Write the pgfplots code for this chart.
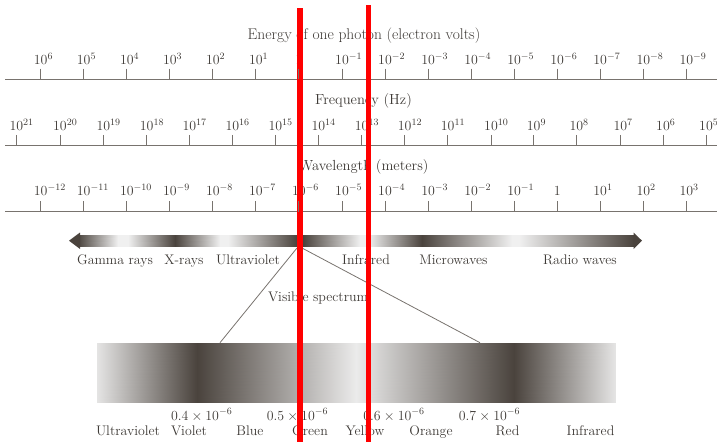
\RequirePackage{fix-cm}
\documentclass[border=0pt]{standalone}
\usepackage{fontspec}
\usepackage{pgfplots}
\pgfplotsset{compat=1.18}
\definecolor{txt}{RGB}{62,58,54}
\definecolor{axc}{RGB}{120,115,110}
\definecolor{dk}{RGB}{74,67,61}
\tikzset{lab/.style={text=txt, inner sep=0pt}}
\newcommand{\tl}[3]{\node[lab,anchor=base west,xshift=-7pt] at (axis cs:#1,#2) {$10^{#3}$};}
\newcommand{\tc}[3]{\node[lab,anchor=base] at (axis cs:#1,#2) {#3};}
\begin{document}
\begin{tikzpicture}[font=\fontsize{13.9}{16}\selectfont]
\path[use as bounding box] (0,0) rectangle (717pt,442pt);
\clip (0,0) rectangle (717pt,442pt);
\begin{axis}[scale only axis, width=717pt, height=442pt,
  xmin=0, xmax=717, ymin=0, ymax=442, y dir=reverse,
  hide axis, clip=false,
  colormap={gs}{rgb255=(74,67,61) rgb255=(240,240,240)},
  point meta min=0, point meta max=1]

% ---------- scale lines ----------
\addplot[axc, line width=0.9pt] coordinates {(5,79.3) (717,79.3)};
\addplot[axc, line width=0.9pt] coordinates {(5,145) (717,145)};
\addplot[axc, line width=0.9pt] coordinates {(5,211.7) (717,211.7)};

% energy ticks
\addplot[axc, only marks, mark=|, mark size=5.3pt, mark options={line width=0.9pt}] coordinates {
(40.7,74) (83.7,74) (126.8,74) (169.8,74) (212.9,74) (255.9,74) (298.9,74) (342.0,74)
(385.0,74) (428.1,74) (471.1,74) (514.1,74) (557.2,74) (600.2,74) (643.3,74) (686.3,74)};
% frequency ticks
\addplot[axc, only marks, mark=|, mark size=5.2pt, mark options={line width=0.9pt}] coordinates {
(16.3,140) (60,140) (103.3,140) (146.7,140) (189.3,140) (232.3,140) (275.3,140) (318.3,140)
(361.7,140) (404.7,140) (447.7,140) (491,140) (533.7,140) (576.3,140) (620.3,140) (663,140) (706,140)};
% wavelength ticks
\addplot[axc, only marks, mark=|, mark size=5.3pt, mark options={line width=0.9pt}] coordinates {
(40.7,206.4) (83.7,206.4) (126.8,206.4) (169.8,206.4) (212.9,206.4) (255.9,206.4) (298.9,206.4) (342.0,206.4)
(385.0,206.4) (428.1,206.4) (471.1,206.4) (514.1,206.4) (557.2,206.4) (600.2,206.4) (643.3,206.4) (686.3,206.4)};

% titles
\node[lab,anchor=base] at (axis cs:364,39.3) {\fontsize{15.5}{18}\selectfont Energy of one photon (electron volts)};
\node[lab,anchor=base] at (axis cs:363.5,104.3) {\fontsize{14.6}{18}\selectfont Frequency (Hz)};
\node[lab,anchor=base] at (axis cs:363.5,170) {\fontsize{14.6}{18}\selectfont Wavelength (meters)};

% energy labels
\tl{40.7}{64.3}{6}\tl{83.7}{64.3}{5}\tl{126.8}{64.3}{4}\tl{169.8}{64.3}{3}
\tl{212.9}{64.3}{2}\tl{255.9}{64.3}{1}\tc{298.9}{64.3}{$1$}\tl{342.0}{64.3}{-1}
\tl{385.0}{64.3}{-2}\tl{428.1}{64.3}{-3}\tl{471.1}{64.3}{-4}\tl{514.1}{64.3}{-5}
\tl{557.2}{64.3}{-6}\tl{600.2}{64.3}{-7}\tl{643.3}{64.3}{-8}\tl{686.3}{64.3}{-9}
% frequency labels
\tl{16.3}{130.7}{21}\tl{60}{130.7}{20}\tl{103.3}{130.7}{19}\tl{146.7}{130.7}{18}
\tl{189.3}{130.7}{17}\tl{232.3}{130.7}{16}\tl{275.3}{130.7}{15}\tl{318.3}{130.7}{14}
\tl{361.7}{130.7}{13}\tl{404.7}{130.7}{12}\tl{447.7}{130.7}{11}\tl{491}{130.7}{10}
\tl{533.7}{130.7}{9}\tl{576.3}{130.7}{8}\tl{620.3}{130.7}{7}\tl{663}{130.7}{6}\tl{706}{130.7}{5}
% wavelength labels
\tl{40.7}{195.7}{-12}\tl{83.7}{195.7}{-11}\tl{126.8}{195.7}{-10}\tl{169.8}{195.7}{-9}
\tl{212.9}{195.7}{-8}\tl{255.9}{195.7}{-7}\tl{298.9}{195.7}{-6}\tl{342.0}{195.7}{-5}
\tl{385.0}{195.7}{-4}\tl{428.1}{195.7}{-3}\tl{471.1}{195.7}{-2}\tl{514.1}{195.7}{-1}
\tc{557.2}{195.7}{$1$}\tl{600.2}{195.7}{1}\tl{643.3}{195.7}{2}\tl{686.3}{195.7}{3}

% ---------- spectrum arrow ----------
\addplot[surf, shader=interp, mesh/rows=2, point meta=explicit] table[meta=c] {
x y c
79 235 0.03
118 235 1
128 235 1
175 235 0
220 235 1
228 235 1
297 235 0
303 235 0
360 235 1
368 235 1
422 235 0
512 235 1
519 235 1
634 235 0
79 246.5 0.03
118 246.5 1
128 246.5 1
175 246.5 0
220 246.5 1
228 246.5 1
297 246.5 0
303 246.5 0
360 246.5 1
368 246.5 1
422 246.5 0
512 246.5 1
519 246.5 1
634 246.5 0
};
\addplot[fill=dk, draw=none] coordinates {(69,240.7) (80,232.5) (80,249)} --cycle;
\addplot[fill=dk, draw=none] coordinates {(642,240.7) (633.5,232.5) (633.5,249)} --cycle;

\tc{115}{264}{Gamma rays}
\tc{184}{264}{X-rays}
\tc{248}{264}{Ultraviolet}
\tc{366}{264}{Infrared}
\tc{453.5}{264}{Microwaves}
\tc{580}{264}{Radio waves}

% ---------- zoom lines ----------
\addplot[axc, line width=0.8pt] coordinates {(297,248) (220,342.7)};
\addplot[axc, line width=0.8pt] coordinates {(302,248) (480,342.7)};
\tc{318}{301.7}{Visible spectrum}

% ---------- visible spectrum bar ----------
\addplot[surf, shader=interp, mesh/rows=2, point meta=explicit] table[meta=c] {
x y c
96.7 342.7 0.93
197 342.7 0
356 342.7 0.97
513.7 342.7 0
615.3 342.7 0.93
96.7 402 0.93
197 402 0
356 402 0.97
513.7 402 0
615.3 402 0.93
};

\tc{201.7}{420}{$0.4\times10^{-6}$}
\tc{297.5}{420}{$0.5\times10^{-6}$}
\tc{394}{420}{$0.6\times10^{-6}$}
\tc{489.5}{420}{$0.7\times10^{-6}$}

\tc{128}{435}{Ultraviolet}
\tc{189}{435}{Violet}
\tc{250}{435}{Blue}
\tc{310}{435}{Green}
\tc{365}{435}{Yellow}
\tc{431}{435}{Orange}
\tc{507.5}{435}{Red}
\tc{590.5}{435}{Infrared}

% ---------- red marker lines ----------
\addplot[red, line width=5.5pt] coordinates {(300,8) (300,442)};
\addplot[red, line width=5.5pt] coordinates {(368.7,5.3) (368.7,442)};
\end{axis}
\end{tikzpicture}
\end{document}
